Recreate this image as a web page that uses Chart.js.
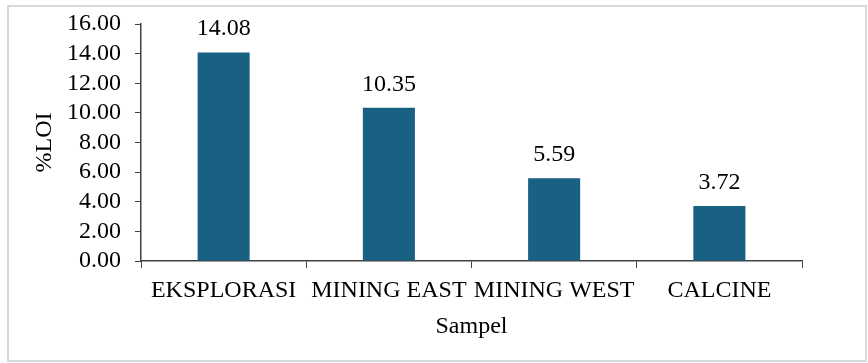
<!DOCTYPE html>
<html>
<head>
<meta charset="utf-8">
<script src="https://cdn.jsdelivr.net/npm/chart.js@4"></script>
<style>
  html, body { margin: 0; padding: 0; background: #ffffff; }
  #wrap { width: 868px; height: 363px; position: relative; }
</style>
</head>
<body>
<div id="wrap"><canvas id="c" width="868" height="363"></canvas></div>
<script>
const categories = ["EKSPLORASI", "MINING EAST", "MINING WEST", "CALCINE"];
const loiValues = [14.08, 10.35, 5.59, 3.72];
const yTicks = [0, 2, 4, 6, 8, 10, 12, 14, 16];

const FONT = "'Liberation Serif', 'Times New Roman', serif";

const borderPlugin = {
  id: 'outerBorder',
  beforeDraw(chart) {
    const ctx = chart.ctx;
    ctx.save();
    ctx.fillStyle = '#ffffff';
    ctx.fillRect(0, 0, chart.width, chart.height);
    ctx.strokeStyle = '#d9d9d9';
    ctx.lineWidth = 2;
    ctx.strokeRect(8, 6, 858, 355);
    ctx.restore();
  }
};

const labelPlugin = {
  id: 'valueLabels',
  afterDatasetsDraw(chart) {
    const ctx = chart.ctx;
    const meta = chart.getDatasetMeta(0);
    ctx.save();
    ctx.font = '24px ' + FONT;
    ctx.fillStyle = '#000000';
    ctx.textAlign = 'center';
    ctx.textBaseline = 'alphabetic';
    meta.data.forEach((bar, i) => {
      ctx.fillText(loiValues[i].toFixed(2), bar.x, bar.y - 17);
    });
    ctx.restore();
  }
};

new Chart(document.getElementById('c'), {
  type: 'bar',
  data: {
    labels: categories,
    datasets: [{
      data: loiValues,
      backgroundColor: '#186182',
      borderWidth: 0,
      categoryPercentage: 1.0,
      barPercentage: 0.315
    }]
  },
  options: {
    responsive: false,
    animation: false,
    devicePixelRatio: 1,
    layout: { padding: { left: 0, top: 24, right: 66, bottom: 0 } },
    plugins: { legend: { display: false }, tooltip: { enabled: false } },
    scales: {
      x: {
        grid: { display: true, drawOnChartArea: false, drawTicks: true, tickLength: 7, color: '#404040', offset: true },
        border: { display: true, color: '#404040', width: 1.5 },
        ticks: { color: '#000000', font: { family: FONT, size: 24 }, padding: 8, maxRotation: 0, autoSkip: false },
        title: { display: true, text: 'Sampel', color: '#000000', font: { family: FONT, size: 24 }, padding: { top: 0, bottom: 22 } },
        afterFit(scale) { scale.height = 102; scale.paddingLeft = 0; scale.paddingRight = 0; }
      },
      y: {
        min: 0, max: 16,
        afterBuildTicks(scale) { scale.ticks = yTicks.map(v => ({ value: v })); },
        grid: { display: true, drawOnChartArea: false, drawTicks: true, tickLength: 6, color: '#404040' },
        border: { display: true, color: '#404040', width: 1.5 },
        ticks: { color: '#000000', font: { family: FONT, size: 24 }, padding: 14, autoSkip: false, callback: v => Number(v).toFixed(2) },
        title: { display: true, text: '%LOI', color: '#000000', font: { family: FONT, size: 24 }, padding: { top: 30, bottom: 0 } },
        afterFit(scale) { scale.width = 141; scale.paddingTop = 0; scale.paddingBottom = 0; }
      }
    }
  },
  plugins: [borderPlugin, labelPlugin]
});
</script>
</body>
</html>
